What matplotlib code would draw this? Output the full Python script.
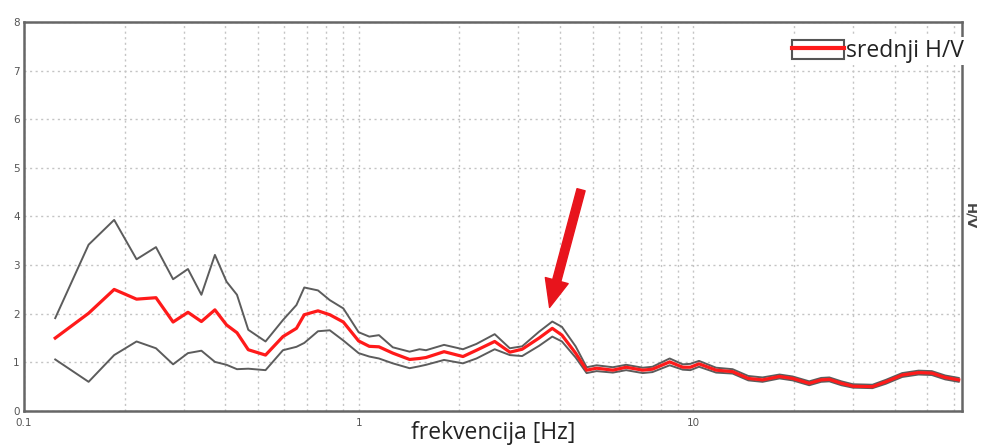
import numpy as np
import matplotlib
matplotlib.use("Agg")
import matplotlib.pyplot as plt
from matplotlib.patches import Patch
from matplotlib.lines import Line2D
from matplotlib.legend_handler import HandlerTuple
from matplotlib.ticker import FixedLocator, NullFormatter

# frekvencija [Hz]
freq = [0.124, 0.156, 0.186, 0.217, 0.248, 0.279, 0.309, 0.339, 0.372, 0.403,
        0.433, 0.468, 0.527, 0.594, 0.652, 0.688, 0.756, 0.82, 0.90, 1.0,
        1.076, 1.15, 1.265, 1.42, 1.52, 1.59, 1.80, 2.05, 2.25, 2.55,
        2.83, 3.08, 3.46, 3.79, 4.05, 4.45, 4.8, 5.14, 5.75, 6.3,
        7.06, 7.55, 8.5, 9.3, 9.8, 10.4, 11.7, 13.1, 14.6, 16.1,
        18.1, 19.8, 22.2, 24.1, 25.5, 27.7, 30.0, 34.3, 37.6, 42.1,
        47.1, 51.6, 56.6, 62.1]

# srednji H/V
hv_mean = [1.50, 2.01, 2.50, 2.30, 2.33, 1.83, 2.03, 1.84, 2.08, 1.77,
           1.61, 1.26, 1.15, 1.53, 1.70, 1.98, 2.06, 1.98, 1.83, 1.44,
           1.33, 1.32, 1.19, 1.06, 1.08, 1.10, 1.22, 1.12, 1.25, 1.43,
           1.21, 1.27, 1.50, 1.70, 1.56, 1.19, 0.84, 0.88, 0.84, 0.90,
           0.84, 0.86, 1.01, 0.90, 0.90, 0.97, 0.84, 0.81, 0.67, 0.64,
           0.71, 0.67, 0.57, 0.64, 0.65, 0.57, 0.51, 0.50, 0.60, 0.74,
           0.79, 0.78, 0.69, 0.64]

# gornja granica (mean + std)
hv_upper = [1.91, 3.42, 3.93, 3.12, 3.37, 2.71, 2.92, 2.39, 3.21, 2.66,
            2.39, 1.67, 1.43, 1.87, 2.18, 2.54, 2.48, 2.28, 2.11, 1.62,
            1.53, 1.56, 1.31, 1.22, 1.27, 1.25, 1.36, 1.27, 1.38, 1.58,
            1.29, 1.33, 1.63, 1.84, 1.73, 1.33, 0.90, 0.94, 0.90, 0.95,
            0.89, 0.91, 1.08, 0.96, 0.97, 1.03, 0.89, 0.86, 0.72, 0.69,
            0.75, 0.71, 0.61, 0.68, 0.69, 0.61, 0.55, 0.54, 0.64, 0.78,
            0.83, 0.82, 0.73, 0.68]

# donja granica (mean - std)
hv_lower = [1.06, 0.60, 1.15, 1.43, 1.29, 0.96, 1.19, 1.24, 1.01, 0.95,
            0.86, 0.87, 0.84, 1.25, 1.32, 1.40, 1.64, 1.66, 1.45, 1.19,
            1.12, 1.08, 0.98, 0.88, 0.92, 0.95, 1.05, 0.98, 1.08, 1.27,
            1.15, 1.13, 1.34, 1.53, 1.43, 1.10, 0.78, 0.82, 0.79, 0.84,
            0.78, 0.80, 0.94, 0.85, 0.84, 0.91, 0.79, 0.77, 0.63, 0.60,
            0.67, 0.63, 0.53, 0.60, 0.61, 0.53, 0.48, 0.47, 0.56, 0.70,
            0.75, 0.74, 0.65, 0.60]

x_ticks = [0.1, 1, 10]
x_ticklabels = ["0.1", "1", "10"]
y_ticks = [0, 1, 2, 3, 4, 5, 6, 7, 8]

fig = plt.figure(figsize=(9.82, 4.45), dpi=100)
ax = fig.add_axes([0.0244, 0.0764, 0.9552, 0.8742])

gray = "#5c5c5c"
red = "#ff1a1a"

ax.plot(freq, hv_upper, color=gray, lw=1.4, zorder=3)
ax.plot(freq, hv_lower, color=gray, lw=1.4, zorder=3)
ax.plot(freq, hv_mean, color=red, lw=2.3, zorder=4)

ax.set_xscale("log")
ax.set_xlim(0.1, 63.5)
ax.set_ylim(0, 8)

# grid na svim podjelama
minor = [m * 10.0 ** e for e in (-1, 0, 1) for m in range(2, 10) if m * 10.0 ** e < 63.5]
ax.xaxis.set_major_locator(FixedLocator(x_ticks))
ax.xaxis.set_minor_locator(FixedLocator(minor))
ax.xaxis.set_minor_formatter(NullFormatter())
ax.set_xticklabels(x_ticklabels)
ax.set_yticks(y_ticks)
ax.grid(True, which="both", color="#c4c4c4", linestyle=(0, (1.5, 2.5)), linewidth=1.0)
ax.set_axisbelow(True)

ax.tick_params(which="both", length=0, labelsize=7.5, labelcolor="#555555")
ax.tick_params(axis="x", pad=5)
ax.tick_params(axis="y", pad=3)
for s in ax.spines.values():
    s.set_color("#666666")
    s.set_linewidth(1.8)

ax.set_xlabel("frekvencija [Hz]", family="Open Sans", fontsize=16.5, color="#222222", labelpad=-5)
fig.text(0.988, 0.515, "H/V", rotation=270, ha="center", va="center",
         fontsize=9.5, color="#444444", fontweight="bold")

# strelica na vrhu
ax.annotate("", xy=(3.72, 2.13), xytext=(4.62, 4.55),
            arrowprops=dict(arrowstyle="simple,head_length=2.0,head_width=1.7,tail_width=0.6",
                            color="#e8141c", shrinkA=0, shrinkB=0), zorder=5)

box = Patch(facecolor="white", edgecolor="#555555", linewidth=1.5)
line = Line2D([], [], color=red, lw=3)
leg = ax.legend([(box, line)], ["srednji H/V"], handler_map={tuple: HandlerTuple(ndivide=1, pad=0)},
                loc="upper right", bbox_to_anchor=(1.004, 0.962), prop={"family": "Open Sans", "size": 16.5},
                handlelength=2.3, handleheight=0.9, handletextpad=0.05, borderpad=0.1,
                borderaxespad=0, frameon=True, fancybox=False)
leg.get_frame().set_edgecolor("none")
leg.get_frame().set_facecolor("white")
leg.get_frame().set_alpha(1)
for t in leg.get_texts():
    t.set_color("#222222")

fig.savefig("out.png", dpi=100)
